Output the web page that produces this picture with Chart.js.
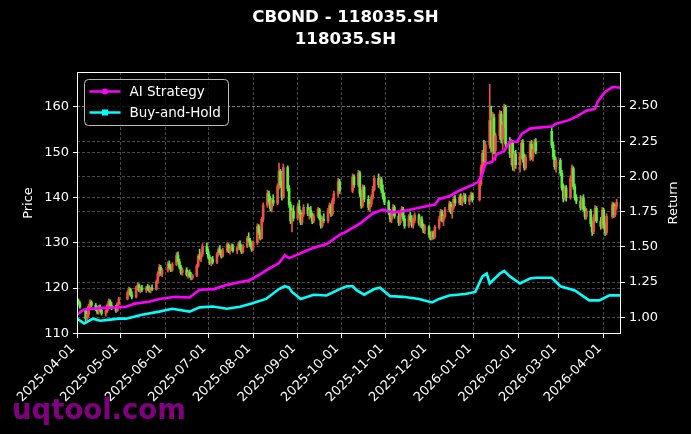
<!DOCTYPE html>
<html>
<head>
<meta charset="utf-8">
<title>CBOND - 118035.SH</title>
<script src="https://cdn.jsdelivr.net/npm/chart.js@4.4.1/dist/chart.umd.min.js"></script>
<style>
  html, body { margin: 0; padding: 0; background: #000; }
  canvas { display: block; }
</style>
</head>
<body>
<canvas id="chart" width="691" height="434"></canvas>
<script>
// daily OHLC of 118035.SH, one line per month (Apr 2025 .. Apr 2026)
var openPx = [
  116.8,117.2,116.7,115.0,113.2,114.2,116.0,116.9,116.2,115.3,114.7,115.8,115.1,114.4,114.9,116.2,117.1,116.1,115.6,115.0,116.5,
  117.6,119.0,119.8,118.5,118.0,120.1,120.6,119.5,120.0,119.6,120.1,119.8,119.4,120.0,119.7,121.4,123.1,124.6,123.2,
  123.9,125.3,124.5,124.0,125.2,127.2,125.8,124.6,123.4,124.0,122.9,123.5,122.7,122.2,122.8,124.9,127.0,126.6,127.5,129.2,
  128.0,126.8,125.6,126.4,125.7,127.4,128.5,127.8,127.0,128.4,129.5,128.2,128.7,129.3,128.3,128.9,129.8,128.8,128.0,129.2,130.9,130.5,129.4,
  128.6,130.0,133.6,132.2,131.0,135.2,138.3,140.9,139.0,137.6,139.4,138.7,142.4,145.8,142.8,140.0,146.6,142.0,138.4,134.8,137.0,
  135.4,138.0,136.6,134.5,136.3,137.8,136.4,137.2,136.0,134.8,135.9,137.3,135.4,133.8,135.2,134.9,137.1,138.2,136.4,139.3,140.8,143.5,
  141.4,144.6,142.8,145.4,140.8,138.2,142.2,139.6,137.8,138.5,140.1,141.8,144.2,142.8,143.9,141.6,140.2,
  139.0,136.8,135.2,136.4,137.8,135.9,134.4,136.3,137.4,135.3,133.7,135.8,135.0,133.9,134.9,136.1,134.3,135.1,133.6,132.8,
  133.5,131.8,131.0,132.2,131.3,133.4,135.2,136.8,135.0,135.8,137.3,138.6,136.9,137.8,139.6,138.8,140.0,138.9,139.7,140.4,139.1,139.9,140.6,
  139.5,143.0,146.6,149.8,148.0,151.6,157.0,151.2,157.6,150.4,153.6,158.4,152.8,156.0,160.0,151.8,149.6,152.0,146.8,149.6,
  147.2,149.2,152.0,148.4,146.6,148.8,151.8,149.0,150.6,152.2,154.6,151.6,149.0,146.8,
  148.2,145.4,142.2,139.8,142.0,140.0,144.2,146.4,142.4,140.0,139.2,137.8,139.8,137.4,135.8,137.0,134.2,132.4,135.6,137.6,134.8,133.6,
  137.2,133.8,132.2,135.8,138.4,136.2,138.0,138.9
];
var highPx = [
  117.8,117.6,117.0,115.3,114.6,116.4,117.4,117.2,116.6,115.9,116.2,116.3,115.6,115.2,116.5,117.6,117.4,116.8,116.2,116.8,118.0,
  119.4,120.2,120.0,119.2,120.4,121.2,120.9,120.3,120.6,120.4,120.8,120.5,120.2,120.7,121.8,123.6,125.2,125.0,124.3,
  125.8,126.0,125.2,125.6,127.8,128.0,126.4,125.0,124.4,124.5,123.8,124.0,123.4,123.0,125.2,127.4,128.6,127.8,129.8,130.0,
  128.6,127.3,126.8,127.0,127.8,128.9,129.4,128.4,128.8,130.0,129.8,129.0,129.8,129.7,129.2,130.2,130.4,129.5,129.6,131.4,132.2,131.0,130.2,
  130.4,134.2,134.0,132.8,135.6,138.8,141.6,141.4,140.2,139.8,140.6,143.0,147.6,146.2,143.6,147.4,147.0,142.6,139.0,137.6,138.2,
  138.6,139.4,137.2,136.8,138.4,138.6,137.8,138.0,136.6,136.4,137.8,137.6,136.0,135.8,136.4,137.6,138.8,138.6,139.8,141.4,144.2,144.0,
  145.2,145.0,146.0,145.8,141.6,142.8,142.6,140.4,139.0,140.6,142.4,144.8,145.2,144.6,144.4,142.8,141.0,
  139.4,137.4,137.0,138.4,138.2,136.6,136.8,138.0,137.8,136.0,136.2,136.8,136.0,135.4,136.6,136.4,135.6,135.8,134.2,134.0,
  133.8,132.4,132.6,132.6,133.8,135.8,137.4,137.2,136.2,137.8,139.2,139.0,138.2,140.2,140.4,140.6,140.8,140.2,141.0,140.8,140.4,141.2,141.0,
  143.6,147.2,150.4,152.6,152.4,165.0,160.2,158.8,158.4,154.2,159.2,159.0,156.8,160.6,160.4,153.2,152.8,152.6,150.2,150.4,
  149.8,152.6,152.8,149.6,149.4,152.4,152.6,151.2,152.8,153.0,155.4,152.2,150.4,148.8,
  148.6,146.0,143.0,142.6,142.6,144.8,147.2,146.8,143.0,140.6,140.4,140.2,140.6,138.0,137.6,137.4,134.8,136.2,138.2,138.0,135.6,137.8,
  137.6,134.4,136.4,139.0,138.8,138.6,139.6,139.4
];
var lowPx = [
  116.2,116.4,115.5,112.6,112.9,113.6,115.6,115.8,115.0,114.3,114.2,114.8,114.0,113.8,114.6,115.9,115.8,115.2,114.6,114.8,116.2,
  117.4,118.6,118.2,117.6,117.8,119.6,119.2,118.9,119.2,119.0,119.5,119.1,118.9,119.4,119.5,121.0,122.6,122.8,122.5,
  123.5,124.2,123.6,123.7,124.9,125.4,124.2,123.0,122.8,122.6,122.2,122.4,121.8,121.9,122.5,124.6,126.2,125.8,127.0,127.6,
  126.4,125.2,124.9,125.3,125.4,127.0,127.4,126.6,126.8,128.0,127.8,127.5,128.2,127.9,127.6,128.5,128.4,127.6,127.7,128.9,130.0,129.0,128.1,
  128.2,129.6,131.8,130.6,130.8,134.6,137.8,138.6,137.0,136.8,138.2,138.4,141.8,142.2,139.4,139.8,141.4,137.8,134.2,132.4,134.8,
  135.0,136.2,134.0,134.0,135.8,136.0,135.2,135.6,134.2,134.4,135.6,135.0,133.2,133.4,134.4,134.4,136.6,135.8,136.0,138.6,140.2,140.8,
  141.0,142.2,142.4,140.2,137.6,137.8,139.0,137.2,136.8,138.0,139.6,141.4,142.2,142.0,141.0,139.6,138.4,
  136.2,134.6,134.4,136.0,135.4,133.8,134.0,135.8,134.8,133.2,133.4,134.6,133.4,133.2,134.4,133.8,133.4,133.2,132.2,132.0,
  131.2,130.6,130.6,130.8,131.0,133.0,134.8,134.6,133.8,135.4,136.8,136.4,135.4,137.4,138.2,138.4,138.4,138.2,139.2,138.6,138.4,139.4,139.0,
  139.2,142.6,145.8,147.0,147.4,150.8,150.0,148.0,149.6,148.2,152.8,152.0,150.6,155.4,151.0,148.8,147.2,146.0,145.8,146.4,
  145.6,148.6,147.8,146.0,146.2,148.2,148.4,148.0,150.0,149.6,151.0,148.4,146.2,145.6,
  144.8,141.6,139.0,139.4,139.2,139.6,143.6,141.8,139.4,138.6,137.2,137.4,137.0,135.2,135.2,133.6,131.6,132.0,135.0,134.4,133.0,133.2,
  133.2,131.6,131.8,135.4,135.6,135.8,137.4,137.2
];
var closePx = [
  117.2,116.7,115.8,113.2,114.2,116.0,116.9,116.2,115.3,114.7,115.8,115.1,114.4,114.9,116.2,117.1,116.1,115.6,115.0,116.5,117.6,
  119.0,119.8,118.5,118.0,120.1,120.6,119.5,120.0,119.6,120.1,119.8,119.4,120.0,119.7,121.4,123.1,124.6,123.2,123.9,
  125.3,124.5,124.0,125.2,127.2,125.8,124.6,123.4,124.0,122.9,123.5,122.7,122.2,122.8,124.9,127.0,126.6,127.5,129.2,128.0,
  126.8,125.6,126.4,125.7,127.4,128.5,127.8,127.0,128.4,129.5,128.2,128.7,129.3,128.3,128.9,129.8,128.8,128.0,129.2,130.9,130.5,129.4,128.6,
  130.0,133.6,132.2,131.0,135.2,138.3,140.9,139.0,137.6,139.4,138.7,142.4,145.8,142.8,140.0,146.6,142.0,138.4,134.8,137.0,135.4,
  138.0,136.6,134.5,136.3,137.8,136.4,137.2,136.0,134.8,135.9,137.3,135.4,133.8,135.2,134.9,137.1,138.2,136.4,139.3,140.8,143.5,141.4,
  144.6,142.8,145.4,140.8,138.2,142.2,139.6,137.8,138.5,140.1,141.8,144.2,142.8,143.9,141.6,140.2,139.0,
  136.8,135.2,136.4,137.8,135.9,134.4,136.3,137.4,135.3,133.7,135.8,135.0,133.9,134.9,136.1,134.3,135.1,133.6,132.8,133.5,
  131.8,131.0,132.2,131.3,133.4,135.2,136.8,135.0,135.8,137.3,138.6,136.9,137.8,139.6,138.8,140.0,138.9,139.7,140.4,139.1,139.9,140.6,139.5,
  143.0,146.6,149.8,148.0,151.6,157.0,151.2,157.6,150.4,153.6,158.4,152.8,156.0,160.0,151.8,149.6,152.0,146.8,149.6,147.2,
  149.2,152.0,148.4,146.6,148.8,151.8,149.0,150.6,152.2,150.3,151.6,149.0,146.8,148.2,
  145.4,142.2,139.8,142.0,140.0,144.2,146.4,142.4,140.0,139.2,137.8,139.8,137.4,135.8,137.0,134.2,132.4,135.6,137.6,134.8,133.6,137.2,
  133.8,132.2,135.8,138.4,136.2,138.0,138.9,137.6
];

// exchange holidays inside the range (weekends are skipped too)
var holidays = ['2025-04-04', '2025-05-01', '2025-05-02', '2025-05-05', '2025-06-02',
  '2025-10-01', '2025-10-02', '2025-10-03', '2025-10-06', '2025-10-07', '2025-10-08',
  '2026-01-01', '2026-01-02', '2026-02-16', '2026-02-17', '2026-02-18', '2026-02-19',
  '2026-02-20', '2026-02-23', '2026-04-06'];
var firstDate = '2025-04-01';
var lastDate = '2026-04-13';

// cumulative return curves (day offset from firstDate, value)
var aiDays = [0, 5, 16, 27, 34, 40, 50, 57, 68, 78, 85, 95, 104, 113, 119, 126, 133, 140, 144, 147,
  154, 163, 173, 182, 187, 196, 205, 212, 218, 224, 238, 248, 251, 258, 265, 272, 278, 281, 283, 288,
  291, 296, 300, 305, 308, 314, 318, 329, 332, 341, 347, 353, 359, 361, 366, 371, 377];
var aiReturn = [1.02, 1.055, 1.065, 1.07, 1.075, 1.097, 1.11, 1.13, 1.145, 1.14, 1.195, 1.20, 1.23, 1.25, 1.26, 1.30, 1.345, 1.385, 1.44, 1.42,
  1.45, 1.49, 1.52, 1.585, 1.61, 1.665, 1.737, 1.765, 1.745, 1.75, 1.78, 1.80, 1.84, 1.86, 1.90, 1.93, 1.96, 2.02, 2.09, 2.105,
  2.16, 2.18, 2.25, 2.245, 2.30, 2.34, 2.345, 2.355, 2.375, 2.40, 2.43, 2.467, 2.48, 2.535, 2.60, 2.635, 2.63];
var bhDays = [0, 5, 11, 16, 23, 29, 34, 45, 57, 66, 78, 85, 94, 104, 113, 121, 131, 140, 144, 147,
  149, 155, 164, 173, 182, 187, 191, 194, 199, 206, 210, 217, 226, 237, 246, 251, 258, 269, 276, 281,
  284, 286, 293, 296, 300, 307, 314, 318, 329, 335, 345, 355, 362, 369, 377];
var bhReturn = [0.99, 0.955, 0.99, 0.975, 0.983, 0.99, 0.99, 1.018, 1.04, 1.06, 1.04, 1.07, 1.076, 1.06, 1.075, 1.097, 1.13, 1.20, 1.22, 1.21,
  1.18, 1.13, 1.16, 1.155, 1.20, 1.22, 1.22, 1.19, 1.16, 1.20, 1.21, 1.15, 1.145, 1.13, 1.105, 1.13, 1.155, 1.165, 1.18, 1.29,
  1.31, 1.24, 1.31, 1.33, 1.29, 1.24, 1.275, 1.28, 1.28, 1.22, 1.19, 1.12, 1.12, 1.155, 1.155];

var monthTicks = ['2025-04-01', '2025-05-01', '2025-06-01', '2025-07-01', '2025-08-01', '2025-09-01', '2025-10-01',
  '2025-11-01', '2025-12-01', '2026-01-01', '2026-02-01', '2026-03-01', '2026-04-01'];
var priceTicks = [110, 120, 130, 140, 150, 160];
var returnTicks = [1.00, 1.25, 1.50, 1.75, 2.00, 2.25, 2.50];

var DAY = 86400000;
function utc(s) {
  var p = s.split('-');
  return Date.UTC(+p[0], +p[1] - 1, +p[2]);
}
function dayOf(s) {
  return Math.round((utc(s) - utc(firstDate)) / DAY);
}

// trading calendar
var tradeDays = [];
var lastDay = dayOf(lastDate);
for (var d = 0; d <= lastDay; d++) {
  var dt = new Date(utc(firstDate) + d * DAY);
  var wd = dt.getUTCDay();
  if (wd === 0 || wd === 6) continue;
  if (holidays.indexOf(dt.toISOString().slice(0, 10)) >= 0) continue;
  tradeDays.push(d);
}

var UP = 'rgb(236, 82, 66)';
var DOWN = 'rgb(96, 236, 66)';
var n = Math.min(tradeDays.length, closePx.length);
var wickData = [], bodyData = [], candleColors = [];
for (var i = 0; i < n; i++) {
  wickData.push({x: tradeDays[i], y: [lowPx[i], highPx[i]]});
  bodyData.push({x: tradeDays[i], y: [openPx[i], closePx[i]]});
  candleColors.push(closePx[i] >= openPx[i] ? UP : DOWN);
}

function pairs(xs, ys) {
  return xs.map(function (x, k) { return {x: x, y: ys[k]}; });
}

// frame, legend box, right axis title, watermark
var decorations = {
  id: 'decorations',
  afterDatasetsDraw: function (chart) {
    var ctx = chart.ctx, a = chart.chartArea;
    ctx.save();
    ctx.strokeStyle = '#ffffff';
    ctx.lineWidth = 1;
    ctx.strokeRect(Math.round(a.left) + 0.5, Math.round(a.top) + 0.5,
      Math.round(a.right - a.left) - 1, Math.round(a.bottom - a.top) - 1);

    var bx = a.left + 7.5, by = a.top + 7.5, bw = 144, bh = 46;
    ctx.beginPath();
    if (ctx.roundRect) ctx.roundRect(bx, by, bw, bh, 4); else ctx.rect(bx, by, bw, bh);
    ctx.fillStyle = 'rgba(0, 0, 0, 0.8)';
    ctx.fill();
    ctx.strokeStyle = '#bdbdbd';
    ctx.stroke();

    var items = chart.data.datasets.filter(function (ds) { return ds.type === 'line'; });
    ctx.font = "13.5px 'DejaVu Sans'";
    ctx.textBaseline = 'middle';
    items.forEach(function (ds, k) {
      var ly = by + 12 + k * 21;
      ctx.strokeStyle = ds.borderColor;
      ctx.fillStyle = ds.borderColor;
      ctx.lineWidth = 2.5;
      ctx.beginPath();
      ctx.moveTo(bx + 5, ly);
      ctx.lineTo(bx + 36, ly);
      ctx.stroke();
      if (ds.pointStyle === 'rect') {
        ctx.fillRect(bx + 17.5, ly - 3, 6, 6);
      } else {
        ctx.beginPath();
        ctx.arc(bx + 20.5, ly, 3, 0, Math.PI * 2);
        ctx.fill();
      }
      ctx.fillStyle = '#ffffff';
      ctx.fillText(ds.label, bx + 45, ly + 1);
    });
    ctx.restore();
  },
  afterDraw: function (chart) {
    var ctx = chart.ctx, a = chart.chartArea;
    ctx.save();
    ctx.fillStyle = '#ffffff';
    ctx.font = "13px 'DejaVu Sans'";
    ctx.textAlign = 'center';
    ctx.textBaseline = 'middle';
    ctx.translate(674, (a.top + a.bottom) / 2);
    ctx.rotate(-Math.PI / 2);
    ctx.fillText('Return', 0, 0);
    ctx.restore();

    ctx.save();
    ctx.fillStyle = 'rgb(128, 0, 128)';
    ctx.font = "bold 27.5px 'DejaVu Sans'";
    ctx.textBaseline = 'alphabetic';
    ctx.fillText('uqtool.com', 12, 419);
    ctx.restore();
  }
};

Chart.defaults.font.family = "'DejaVu Sans', sans-serif";
Chart.defaults.font.size = 13;
Chart.defaults.color = '#ffffff';

var gridColor = 'rgba(255, 255, 255, 0.28)';

new Chart(document.getElementById('chart'), {
  type: 'bar',
  data: {
    datasets: [{
      type: 'line',
      label: 'AI Strategy',
      data: pairs(aiDays, aiReturn),
      yAxisID: 'y2',
      borderColor: '#ff00ff',
      backgroundColor: '#ff00ff',
      borderWidth: 2.6,
      pointRadius: 0,
      pointStyle: 'circle',
      tension: 0,
      order: 0
    }, {
      type: 'line',
      label: 'Buy-and-Hold',
      data: pairs(bhDays, bhReturn),
      yAxisID: 'y2',
      borderColor: '#00ffff',
      backgroundColor: '#00ffff',
      borderWidth: 2.6,
      pointRadius: 0,
      pointStyle: 'rect',
      tension: 0,
      order: 0
    }, {
      label: 'body',
      data: bodyData,
      yAxisID: 'y',
      backgroundColor: candleColors,
      borderWidth: 0,
      barThickness: 2,
      grouped: false,
      order: 1
    }, {
      label: 'wick',
      data: wickData,
      yAxisID: 'y',
      backgroundColor: candleColors,
      borderWidth: 0,
      barThickness: 1,
      grouped: false,
      order: 2
    }]
  },
  options: {
    responsive: false,
    devicePixelRatio: 1,
    animation: false,
    events: [],
    layout: {padding: 0},
    plugins: {
      legend: {display: false},
      tooltip: {enabled: false},
      title: {
        display: true,
        text: ['CBOND - 118035.SH', '118035.SH'],
        color: '#ffffff',
        font: {size: 16.6, weight: 'bold', lineHeight: 1.325},
        padding: {top: 7, bottom: 21}
      }
    },
    scales: {
      x: {
        type: 'linear',
        min: 0,
        max: lastDay,
        offset: false,
        afterBuildTicks: function (scale) {
          scale.ticks = monthTicks.map(function (s) { return {value: dayOf(s)}; });
        },
        afterFit: function (scale) { scale.height = 100; },
        ticks: {
          autoSkip: false,
          minRotation: 45,
          maxRotation: 45,
          padding: 3,
          labelOffset: -4,
          color: '#ffffff',
          callback: function (value, index) { return monthTicks[index]; }
        },
        grid: {color: gridColor, offset: false, tickColor: '#ffffff', tickLength: 4, tickWidth: 1},
        border: {display: false, dash: [3, 2]}
      },
      y: {
        position: 'left',
        min: 109.85,
        max: 167.7,
        afterBuildTicks: function (scale) {
          scale.ticks = priceTicks.map(function (v) { return {value: v}; });
        },
        afterFit: function (scale) { scale.width = 77; },
        ticks: {padding: 4, color: '#ffffff'},
        title: {display: true, text: 'Price', color: '#ffffff', font: {size: 13}, padding: {top: 21, bottom: 0}},
        grid: {color: gridColor, tickColor: '#ffffff', tickLength: 4, tickWidth: 1},
        border: {display: false, dash: [3, 2]}
      },
      y2: {
        position: 'right',
        min: 0.881,
        max: 2.742,
        afterBuildTicks: function (scale) {
          scale.ticks = returnTicks.map(function (v) { return {value: v}; });
        },
        afterFit: function (scale) { scale.width = 70; },
        ticks: {
          padding: 4,
          color: '#ffffff',
          callback: function (value) { return value.toFixed(2); }
        },
        grid: {color: gridColor, tickColor: '#ffffff', tickLength: 4, tickWidth: 1},
        border: {display: false, dash: [3, 2]}
      }
    }
  },
  plugins: [decorations]
});
</script>
</body>
</html>
